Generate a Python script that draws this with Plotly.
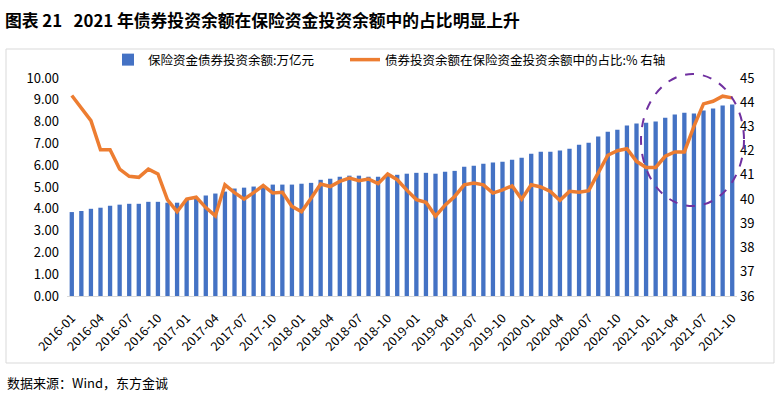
import plotly.graph_objects as go

months = [f"{y}-{m:02d}" for y in range(2016, 2022) for m in range(1, 13)][:70]

bond_balance = [
    3.85, 3.90, 4.00, 4.05, 4.14, 4.19, 4.23, 4.23, 4.32, 4.32,
    4.28, 4.28, 4.41, 4.49, 4.61, 4.70, 4.79, 4.93, 4.97, 5.02,
    5.06, 5.11, 5.11, 5.11, 5.15, 5.19, 5.33, 5.38, 5.47, 5.52,
    5.52, 5.47, 5.47, 5.52, 5.56, 5.61, 5.65, 5.65, 5.61, 5.70,
    5.74, 5.93, 5.98, 6.07, 6.12, 6.16, 6.25, 6.34, 6.53, 6.62,
    6.62, 6.67, 6.76, 6.94, 7.03, 7.32, 7.54, 7.63, 7.82, 7.91,
    7.95, 8.00, 8.18, 8.32, 8.41, 8.37, 8.51, 8.60, 8.74, 8.78,
]

bond_share = [
    44.28, 43.77, 43.24, 42.04, 42.04, 41.24, 40.94, 40.90, 41.24, 41.04,
    39.97, 39.48, 40.00, 40.08, 39.65, 39.31, 40.59, 40.27, 40.00, 40.27,
    40.56, 40.25, 40.28, 39.70, 39.48, 40.04, 40.62, 40.52, 40.73, 40.87,
    40.76, 40.83, 40.64, 41.04, 40.80, 40.37, 39.98, 39.87, 39.30, 39.75,
    40.11, 40.59, 40.66, 40.59, 40.25, 40.38, 40.55, 40.00, 40.59, 40.50,
    40.32, 39.95, 40.32, 40.28, 40.35, 41.08, 41.81, 42.00, 42.08, 41.56,
    41.31, 41.31, 41.77, 41.95, 41.95, 43.00, 43.93, 44.04, 44.25, 44.18,
]

tick_labels = months[::3]

FONT = "Noto Sans CJK SC"
W, H = 782, 396
L, R, T, B = 67, 45, 78, 100
PW, PH = W - L - R, H - T - B


def px(xp):
    return (xp - L) / PW


def py(yp):
    return (H - B - yp) / PH


fig = go.Figure()
fig.add_trace(go.Bar(
    x=months, y=bond_balance, name="保险资金债券投资余额:万亿元",
    marker=dict(color="#4472C4", line=dict(width=0)), yaxis="y", legend="legend",
))
fig.add_trace(go.Scatter(
    x=months, y=bond_share, name="债券投资余额在保险资金投资余额中的占比:% 右轴",
    mode="lines", line=dict(color="#ED7D31", width=3.5), yaxis="y2", legend="legend2",
))

# highlight ellipse (dashed purple)
fig.add_shape(type="circle", xref="paper", yref="paper",
              x0=px(641), x1=px(744), y0=py(206), y1=py(74),
              line=dict(color="#7030A0", width=2, dash="dash"))

# outer frame
fig.add_shape(type="rect", xref="paper", yref="paper",
              x0=px(6), x1=px(774), y0=py(363), y1=py(49),
              line=dict(color="#D9D9D9", width=1), layer="below")

fig.add_annotation(text="数据来源：Wind，东方金诚", xref="paper", yref="paper",
                   x=px(5), y=py(382), xanchor="left", yanchor="middle",
                   showarrow=False, font=dict(family=FONT, size=13, color="#000000"))

legend_common = dict(orientation="h", xref="container", yref="container",
                     xanchor="left", yanchor="middle",
                     font=dict(family=FONT, size=12.5, color="#000000"),
                     bgcolor="rgba(0,0,0,0)")

fig.update_layout(
    width=W, height=H,
    margin=dict(l=L, r=R, t=T, b=B, autoexpand=False),
    paper_bgcolor="white", plot_bgcolor="white",
    font=dict(family=FONT, size=13, color="#000000"),
    title=dict(text="<b>图表 21   2021 年债券投资余额在保险资金投资余额中的占比明显上升</b>",
               x=5 / W, xref="container", xanchor="left",
               y=1 - 21 / H, yref="container", yanchor="middle",
               font=dict(family=FONT, size=16.8, color="#000000")),
    bargap=0.55,
    showlegend=True,
    legend=dict(x=108 / W, y=1 - 60 / H, **legend_common),
    legend2=dict(x=345 / W, y=1 - 60 / H, **legend_common),
    xaxis=dict(type="category", range=[-0.5, 69.5], tickmode="array",
               tickvals=tick_labels, ticktext=tick_labels, tickangle=-45,
               showline=True, linecolor="#D9D9D9", linewidth=1, automargin=False,
               showgrid=False, ticks="", ticklabelstandoff=9,
               tickfont=dict(family=FONT, size=12.5)),
    yaxis=dict(range=[0, 10], dtick=1, tickformat=".2f", showgrid=False,
               showline=False, ticks="", zeroline=False, automargin=False,
               ticklabelstandoff=7, tickfont=dict(family=FONT, size=13)),
    yaxis2=dict(range=[36, 45], dtick=1, overlaying="y", side="right",
                showgrid=False, showline=False, ticks="", zeroline=False, automargin=False,
                ticklabelstandoff=2, tickfont=dict(family=FONT, size=13)),
)

fig.write_html("out.html", config={"displayModeBar": False},
               post_script="document.body.style.margin='0';document.body.style.overflow='hidden';")
